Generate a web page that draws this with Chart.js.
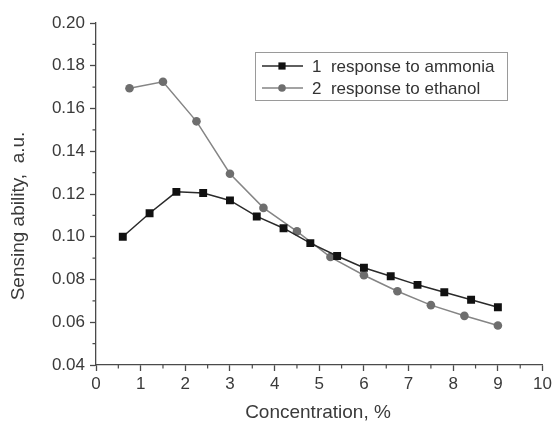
<!DOCTYPE html>
<html>
<head>
<meta charset="utf-8">
<script src="https://cdn.jsdelivr.net/npm/chart.js@4.4.1/dist/chart.umd.min.js"></script>
<style>
  body { margin: 0; background: #fff; }
  canvas { display: block; }
</style>
</head>
<body>
<canvas id="sensing-chart" width="555" height="423"></canvas>
<script>
    // concentration, % (x) and sensing ability (y)
    const ammoniaConc = [0.6, 1.2, 1.8, 2.4, 3.0, 3.6, 4.2, 4.8, 5.4, 6.0, 6.6, 7.2, 7.8, 8.4, 9.0];
    const ammoniaResp = [0.100, 0.111, 0.121, 0.1205, 0.117, 0.1095, 0.104, 0.097, 0.091, 0.0855, 0.0815, 0.0775, 0.074, 0.0705, 0.067];

    const ethanolConc = [0.75, 1.5, 2.25, 3.0, 3.75, 4.5, 5.25, 6.0, 6.75, 7.5, 8.25, 9.0];
    const ethanolResp = [0.1695, 0.1725, 0.154, 0.1295, 0.1135, 0.1025, 0.0905, 0.082, 0.0745, 0.068, 0.063, 0.0585];

    const seriesLabels = ['1  response to ammonia', '2  response to ethanol'];
    const xTicks = [0, 1, 2, 3, 4, 5, 6, 7, 8, 9, 10];
    const yTicks = [0.04, 0.06, 0.08, 0.10, 0.12, 0.14, 0.16, 0.18, 0.20];

    const font = 'Liberation Sans';
    const axisColor = '#4a4a4a';

    function toPoints(xs, ys) {
        return xs.map(function (x, i) { return { x: x, y: ys[i] }; });
    }

    // minor ticks, legend box and axis titles
    const extras = {
        id: 'extras',
        afterDraw: function (chart) {
            const ctx = chart.ctx;
            const xs = chart.scales.x;
            const ys = chart.scales.y;
            const area = chart.chartArea;
            ctx.save();
            ctx.strokeStyle = axisColor;
            ctx.lineWidth = 1.2;
            ctx.beginPath();
            for (let i = 0; i < xTicks.length - 1; i++) {
                const px = xs.getPixelForValue((xTicks[i] + xTicks[i + 1]) / 2);
                ctx.moveTo(px, area.bottom);
                ctx.lineTo(px, area.bottom + 3.5);
            }
            for (let i = 0; i < yTicks.length - 1; i++) {
                const py = ys.getPixelForValue((yTicks[i] + yTicks[i + 1]) / 2);
                ctx.moveTo(area.left, py);
                ctx.lineTo(area.left - 3.5, py);
            }
            ctx.stroke();

            // legend
            ctx.strokeStyle = '#9a9a9a';
            ctx.lineWidth = 1;
            ctx.strokeRect(255.5, 52.5, 252, 48);
            const rows = [66, 88];
            chart.data.datasets.forEach(function (ds, i) {
                const y = rows[i];
                ctx.strokeStyle = ds.borderColor;
                ctx.lineWidth = 1.5;
                ctx.beginPath();
                ctx.moveTo(262, y);
                ctx.lineTo(303, y);
                ctx.stroke();
                ctx.fillStyle = ds.pointBackgroundColor;
                ctx.strokeStyle = ds.pointBackgroundColor;
                Chart.helpers.drawPoint(ctx, {
                    pointStyle: ds.pointStyle,
                    radius: ds.pointRadius - 0.5,
                    rotation: 0,
                    borderWidth: 0
                }, 282, y);
                ctx.fillStyle = '#333';
                ctx.font = '17px "' + font + '"';
                ctx.textAlign = 'left';
                ctx.textBaseline = 'middle';
                ctx.fillText(ds.label, 312, y + 1);
            });

            // axis titles
            ctx.fillStyle = '#3a3a3a';
            ctx.font = '19px "' + font + '"';
            ctx.textAlign = 'center';
            ctx.textBaseline = 'middle';
            ctx.fillText('Concentration, %', 318, 413);
            ctx.translate(19, 216);
            ctx.rotate(-Math.PI / 2);
            ctx.fillText('Sensing ability,  a.u.', 0, 0);
            ctx.restore();
        }
    };

    new Chart(document.getElementById('sensing-chart'), {
        type: 'line',
        data: {
            datasets: [{
                label: seriesLabels[0],
                data: toPoints(ammoniaConc, ammoniaResp),
                borderColor: '#2a2a2a',
                borderWidth: 1.5,
                pointStyle: 'rect',
                pointRadius: 5.6,
                pointBackgroundColor: '#111',
                pointBorderWidth: 0,
                tension: 0
            }, {
                label: seriesLabels[1],
                data: toPoints(ethanolConc, ethanolResp),
                borderColor: '#858585',
                borderWidth: 1.5,
                pointStyle: 'circle',
                pointRadius: 4.3,
                pointBackgroundColor: '#6e6e6e',
                pointBorderWidth: 0,
                tension: 0
            }]
        },
        options: {
            responsive: false,
            animation: false,
            layout: { padding: { top: 23, right: 12, left: 0, bottom: 0 } },
            plugins: {
                legend: { display: false },
                tooltip: { enabled: false }
            },
            scales: {
                x: {
                    type: 'linear',
                    min: 0,
                    max: 10,
                    afterBuildTicks: function (scale) {
                        scale.ticks = xTicks.map(function (v) { return { value: v }; });
                    },
                    afterFit: function (scale) { scale.height = 58; },
                    border: { color: axisColor, width: 1.3 },
                    grid: { drawOnChartArea: false, color: axisColor, tickLength: 6, tickWidth: 1.3 },
                    ticks: { color: '#3a3a3a', padding: 3, maxRotation: 0, font: { family: font, size: 17 } }
                },
                y: {
                    min: 0.04,
                    max: 0.20,
                    afterBuildTicks: function (scale) {
                        scale.ticks = yTicks.map(function (v) { return { value: v }; });
                    },
                    afterFit: function (scale) { scale.width = 96; },
                    border: { color: axisColor, width: 1.3 },
                    grid: { drawOnChartArea: false, color: axisColor, tickLength: 6, tickWidth: 1.3 },
                    ticks: {
                        color: '#3a3a3a',
                        padding: 5,
                        font: { family: font, size: 17 },
                        callback: function (v) { return v.toFixed(2); }
                    }
                }
            }
        },
        plugins: [extras]
    });
</script>
</body>
</html>
